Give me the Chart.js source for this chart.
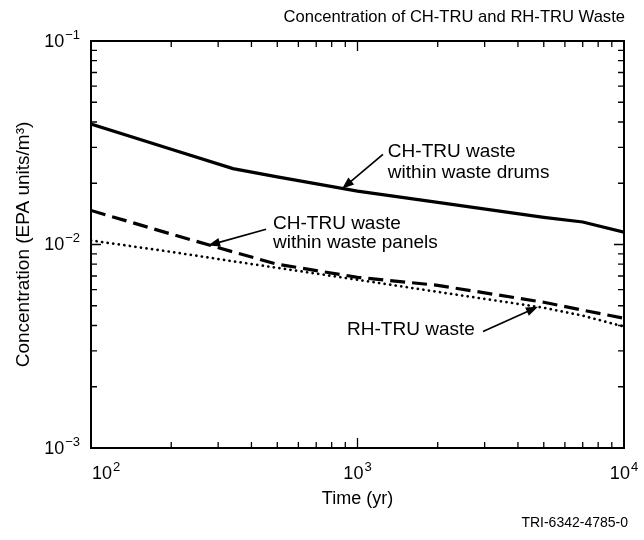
<!DOCTYPE html>
<html><head><meta charset="utf-8">
<script src="https://cdn.jsdelivr.net/npm/chart.js@4.4.1/dist/chart.umd.min.js"></script>
<style>html,body{margin:0;padding:0;background:#fff}#wrap{width:644px;height:540px;position:relative}</style>
</head><body><div id="wrap"><canvas id="c" width="644" height="540"></canvas></div>
<script>
const years = [100, 200, 341, 500, 1000, 2000, 5000, 7000, 10000];
const drums = [0.0391, 0.0294, 0.0236, 0.0215, 0.0183, 0.0161, 0.0136, 0.0129, 0.0115];
const panels = [0.0147, 0.01125, 0.0092, 0.0080, 0.0069, 0.0063, 0.0052, 0.00476, 0.00434];
const rhtru = [0.01047, 0.0092, 0.00827, 0.00768, 0.00671, 0.00585, 0.00489, 0.00447, 0.00395];
const xTicks = [100, 1000, 10000];
const xTickExp = ['2', '3', '4'];
const yTicks = [0.1, 0.01, 0.001];
const yTickExp = ['−1', '−2', '−3'];
const titleText = 'Concentration of CH-TRU and RH-TRU Waste';
const footerText = 'TRI-6342-4785-0';
// annotations in data coordinates
const notes = [
  {lines: ['CH-TRU waste', 'within waste drums'], x: 1300, y: [0.0287, 0.0224], tail: [1246, 0.0277], head: [875, 0.0188]},
  {lines: ['CH-TRU waste', 'within waste panels'], x: 482, y: [0.01258, 0.01023], tail: [454, 0.01189], head: [275, 0.00989]},
  {lines: ['RH-TRU waste'], x: 914, y: [0.00383], tail: [2958, 0.00374], head: [4755, 0.00494]}
];
const FONT = '"Liberation Sans", Arial, sans-serif';

function pts(ys){ return years.map((x,i)=>({x:x, y:ys[i]})); }

function powLabel(ctx, base, exp, px, py, align) {
  ctx.font = '18px ' + FONT;
  const wb = ctx.measureText(base).width;
  ctx.font = '13px ' + FONT;
  const we = ctx.measureText(exp).width;
  const w = wb + we + 1;
  let x0 = align === 'right' ? px - w : align === 'center' ? px - w / 2 : px;
  ctx.textAlign = 'left';
  ctx.textBaseline = 'alphabetic';
  ctx.font = '18px ' + FONT;
  ctx.fillText(base, x0, py + 6.5);
  ctx.font = '13px ' + FONT;
  ctx.fillText(exp, x0 + wb + 1, py - 1.5);
}

const framePlugin = {
  id: 'frame',
  afterDatasetsDraw(chart) {
    const {ctx, chartArea: a, scales: {x, y}} = chart;
    ctx.save();
    ctx.strokeStyle = '#000';
    ctx.fillStyle = '#000';
    // ticks
    ctx.lineWidth = 1.3;
    for (let d = 2; d <= 4; d++) {
      for (let m = 1; m <= 9; m++) {
        const v = m * Math.pow(10, d);
        if (v < 100 || v > 10000) continue;
        const px = x.getPixelForValue(v);
        const L = m === 1 ? 10 : 6;
        ctx.beginPath(); ctx.moveTo(px, a.bottom); ctx.lineTo(px, a.bottom - L);
        ctx.moveTo(px, a.top); ctx.lineTo(px, a.top + L); ctx.stroke();
      }
    }
    for (let d = -3; d <= -1; d++) {
      for (let m = 1; m <= 9; m++) {
        const v = m * Math.pow(10, d);
        if (v < 0.001 || v > 0.1 + 1e-12) continue;
        const py = y.getPixelForValue(v);
        const L = m === 1 ? 10 : 6;
        ctx.beginPath(); ctx.moveTo(a.left, py); ctx.lineTo(a.left + L, py);
        ctx.moveTo(a.right, py); ctx.lineTo(a.right - L, py); ctx.stroke();
      }
    }
    ctx.lineWidth = 2;
    ctx.strokeRect(a.left, a.top, a.right - a.left, a.bottom - a.top);
    // tick labels
    xTicks.forEach((v, i) => {
      const px = x.getPixelForValue(v);
      powLabel(ctx, '10', xTickExp[i], i === 0 ? px + 1 : px, a.bottom + 24, i === 0 ? 'left' : 'center');
    });
    yTicks.forEach((v, i) => {
      const py = y.getPixelForValue(v);
      powLabel(ctx, '10', yTickExp[i], a.left - 11, py - 1, 'right');
    });
    // annotations
    ctx.font = '19px ' + FONT;
    ctx.textBaseline = 'middle';
    ctx.textAlign = 'left';
    notes.forEach(n => {
      n.lines.forEach((t, i) => ctx.fillText(t, x.getPixelForValue(n.x), y.getPixelForValue(n.y[i])));
      const tx = x.getPixelForValue(n.tail[0]), ty = y.getPixelForValue(n.tail[1]);
      const hx = x.getPixelForValue(n.head[0]), hy = y.getPixelForValue(n.head[1]);
      const ang = Math.atan2(hy - ty, hx - tx);
      const hl = 12, hw = 4.5;
      ctx.lineWidth = 1.7;
      ctx.beginPath(); ctx.moveTo(tx, ty);
      ctx.lineTo(hx - Math.cos(ang) * hl * 0.8, hy - Math.sin(ang) * hl * 0.8); ctx.stroke();
      ctx.beginPath();
      ctx.moveTo(hx, hy);
      ctx.lineTo(hx - Math.cos(ang) * hl + Math.sin(ang) * hw, hy - Math.sin(ang) * hl - Math.cos(ang) * hw);
      ctx.lineTo(hx - Math.cos(ang) * hl - Math.sin(ang) * hw, hy - Math.sin(ang) * hl + Math.cos(ang) * hw);
      ctx.closePath(); ctx.fill();
    });
    // title and footer
    ctx.font = '16.6px ' + FONT;
    ctx.textAlign = 'right';
    ctx.fillText(titleText, a.right + 1, 17);
    ctx.font = '14px ' + FONT;
    ctx.fillText(footerText, a.right + 4, 523);
    ctx.restore();
  }
};

new Chart(document.getElementById('c'), {
  type: 'line',
  data: {
    datasets: [
      {label: 'CH-TRU waste within waste drums', data: pts(drums), borderColor: '#000', borderWidth: 3.2, pointRadius: 0, tension: 0, fill: false},
      {label: 'CH-TRU waste within waste panels', data: pts(panels), borderColor: '#000', borderWidth: 3.2, borderDash: [15, 7], pointRadius: 0, tension: 0, fill: false},
      {label: 'RH-TRU waste', data: pts(rhtru), borderColor: '#000', borderWidth: 2.7, borderDash: [0.1, 5.5], borderCapStyle: 'round', pointRadius: 0, tension: 0, fill: false}
    ]
  },
  options: {
    responsive: false,
    animation: false,
    devicePixelRatio: 1,
    layout: {padding: {top: 41, right: 20, left: 12, bottom: 30}},
    plugins: {legend: {display: false}, tooltip: {enabled: false}},
    scales: {
      x: {
        type: 'logarithmic', min: 100, max: 10000,
        grid: {display: false, drawTicks: false},
        border: {display: false},
        ticks: {display: false},
        afterFit(s) { s.height = 62; s.paddingLeft = 0; s.paddingRight = 0; },
        title: {display: true, text: 'Time (yr)', color: '#000', font: {family: FONT, size: 18}, padding: 0}
      },
      y: {
        type: 'logarithmic', min: 0.001, max: 0.1,
        grid: {display: false, drawTicks: false},
        border: {display: false},
        ticks: {display: false},
        afterFit(s) { s.width = 79; s.paddingTop = 0; s.paddingBottom = 0; },
        title: {display: true, text: 'Concentration (EPA units/m³)', color: '#000', font: {family: FONT, size: 19}, padding: 0}
      }
    }
  },
  plugins: [framePlugin]
});
</script></body></html>
